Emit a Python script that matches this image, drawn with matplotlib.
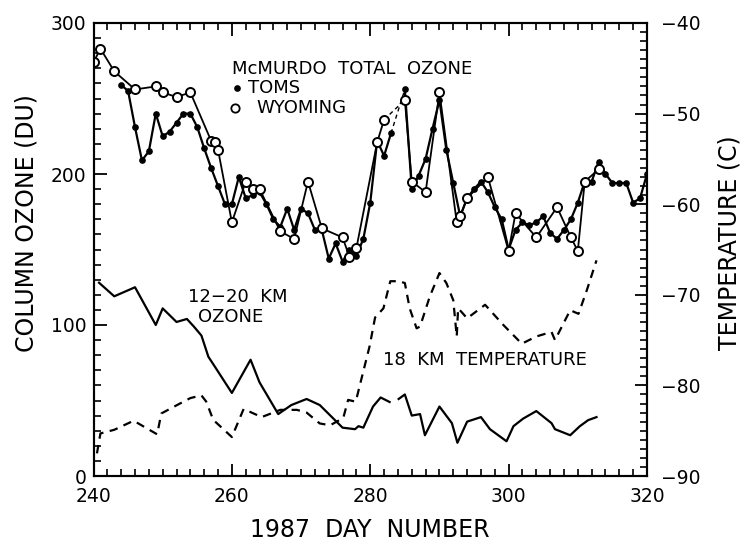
import matplotlib
matplotlib.use('Agg')
import matplotlib.pyplot as plt
import numpy as np
from matplotlib.lines import Line2D
from matplotlib.ticker import MultipleLocator, FixedLocator

plt.rcParams['font.family'] = ['DejaVu Sans']

# ---- data ----
toms_day = [244, 245, 246, 247, 248, 249, 250, 251, 252, 253, 254, 255, 256, 257,
            258, 259, 260, 261, 262, 263, 264, 265, 266, 267, 268, 269, 270, 271,
            272, 273, 274, 275, 276, 277, 278, 279, 280, 281, 282, 283, 284, 285,
            286, 287, 288, 289, 290, 291, 292, 293, 294, 295, 296, 297, 298, 299,
            300, 301, 302, 303, 304, 305, 306, 307, 308, 309, 310, 311, 312, 313,
            314, 315, 316, 317, 318, 319, 320]
toms_du = [259, 255, 231, 209, 215, 240, 225, 228, 234, 240, 240, 231, 217, 204,
           192, 180, 180, 198, 184, 186, 188, 180, 170, 165, 177, 163, 177, 174,
           163, 163, 144, 154, 142, 150, 146, 157, 181, 222, 212, 227, np.nan, 256,
           190, 199, 210, 230, 249, 216, 194, 172, 184, 190, 195, 188, 178, 170,
           150, 163, 168, 166, 168, 172, 161, 157, 163, 170, 181, 195, 195, 208,
           200, 194, 194, 194, 181, 184, 200]
toms_gap = (283, 285)

wy_day = [240, 241, 243, 246, 249, 250, 252, 254, 257, 257.5, 258, 260, 262, 263,
          264, 267, 269, 271, 273, 276, 277, 278, 281, 282, 285, 286, 288, 290,
          292.5, 293, 294, 297, 300, 301, 304, 307, 309, 310, 311, 313]
wy_du = [274, 283, 268, 256, 258, 254, 251, 254, 222, 221, 216, 168, 195, 190,
         190, 162, 157, 195, 164, 158, 145, 151, 221, 236, 249, 195, 188, 254,
         168, 172, 184, 198, 149, 174, 158, 178, 158, 149, 195, 203]
wy_gap = (282, 285)

o3_day = [240.8, 243, 246, 249, 250, 252, 253.5, 254.5, 255.6, 256.6, 257.6, 260,
          262.7, 264, 266.7, 268.6, 270.8, 272.7, 276, 277.8, 278.3, 279, 280.4,
          281.5, 282.8, np.nan, 284.1, 285, 286, 287.2, 287.9, 290, 291.8, 292.6,
          294, 296, 297.3, 299.7, 300.7, 302.1, 304, 306.2, 306.7, 308.9, 310.3,
          311.5, 312.7]
o3_du = [128, 119, 125, 100, 111, 102, 104, 99, 93, 79, 72, 55,
         77, 62, 41, 47, 51, 47, 32, 31, 33, 32, 46,
         52, 49, np.nan, 51, 54, 40, 41, 27, 46, 35, 22,
         36, 39, 31, 23, 33, 38, 43, 35, 31, 27, 33,
         37, 39]

t_day = [240.5, 241, 243, 245.8, 249.2, 249.8, 252, 254, 255.6, 256.3, 257.3, 260,
         261.7, 264.3, 267, 269.4, 270.8, 272.7, 274.2, 276.1, 276.8, 277.9, 279.9,
         280.7, 281.9, 282.9, 284.1, 285, 285.7, 286.7, 287.2, 288.6, 290, 291, 292,
         292.5, 292.7, 293.2, 294, 296.6, 299.2, 301.9, 304, 306.2, 306.7, 308.9,
         310.1, 311.3, 312.7]
t_c = [-87.5, -85.3, -84.9, -83.9, -85.4, -83.1, -82.2, -81.4, -81.1, -81.8, -83.8, -85.7,
       -82.6, -83.5, -82.7, -82.7, -83.0, -84.2, -84.4, -83.6, -81.6, -81.8, -75.7,
       -72.5, -71.5, -68.5, -68.5, -68.7, -71.5, -73.7, -73.5, -70.2, -67.6, -68.7, -70.6,
       -74.6, -71.5, -71.9, -72.6, -71.1, -73.3, -75.4, -74.6, -74.1, -75.0, -71.7,
       -72.1, -69.5, -66.2]

W, H = 747, 543
def fx(p):
    return p / W
def fy(p):
    return 1 - p / H

fig = plt.figure(figsize=(W / 100, H / 100), dpi=100)
ax = fig.add_axes([fx(93.5), fy(476), fx(647) - fx(93.5), fy(23) - fy(476)])
ax2 = ax.twinx()

ax.set_xlim(240, 320)
ax.set_ylim(0, 300)
ax2.set_ylim(-90, -40)

lw = 1.6
# TOMS
td = np.array(toms_day, dtype=float)
tv = np.array(toms_du, dtype=float)
ax.plot(td, tv, '-', color='k', lw=lw, marker='o', ms=3.8, mfc='k', mec='k', zorder=3)
i0, i1 = toms_day.index(toms_gap[0]), toms_day.index(toms_gap[1])
ax.plot([td[i0], td[i1]], [tv[i0], tv[i1]], color='k', lw=1.0, dashes=(3, 2.5), zorder=3)

# Wyoming
wd = np.array(wy_day, dtype=float)
wv = np.array(wy_du, dtype=float)
j0, j1 = wy_day.index(wy_gap[0]), wy_day.index(wy_gap[1])
for sl in (slice(0, j0 + 1), slice(j1, None)):
    ax.plot(wd[sl], wv[sl], '-', color='k', lw=1.3, marker='o', ms=6.5,
            mfc='white', mec='k', mew=1.4, zorder=4)
ax.plot([wd[j0], wd[j1]], [wv[j0], wv[j1]], color='k', lw=1.0, dashes=(3, 2.5), zorder=3)

# 12-20 km ozone
ax.plot(o3_day, o3_du, '-', color='k', lw=lw)

# 18 km temperature
ax2.plot(t_day, t_c, color='k', lw=lw, dashes=(3.8, 2.9))

# ticks
ax.xaxis.set_major_locator(MultipleLocator(20))
ax.xaxis.set_minor_locator(MultipleLocator(2))
ax.yaxis.set_major_locator(MultipleLocator(100))
ax.yaxis.set_minor_locator(MultipleLocator(10))
ax2.yaxis.set_major_locator(MultipleLocator(10))
ax2.yaxis.set_minor_locator(MultipleLocator(1))

ax.tick_params(which='both', direction='in', top=True, right=False, labelsize=13.5)
ax.tick_params(which='major', length=9, width=1.3)
ax.tick_params(which='minor', length=5, width=1.2)
ax.tick_params(axis='x', which='major', pad=8)
ax.tick_params(axis='y', which='major', pad=5)
ax2.tick_params(which='both', direction='in', right=True, left=False, labelsize=13.5)
ax2.tick_params(which='major', length=9, width=1.3, pad=10)
ax2.tick_params(which='minor', length=5, width=1.2)

for a in (ax, ax2):
    for s in a.spines.values():
        s.set_linewidth(1.5)

ax.set_xlabel('1987  DAY  NUMBER', fontsize=17)
ax.xaxis.set_label_coords(0.5, -0.092)
ax.set_ylabel('COLUMN OZONE (DU)', fontsize=17)
ax.yaxis.set_label_coords(-0.100, 0.5585)
ax2.set_ylabel('TEMPERATURE (C)', fontsize=17)
ax2.yaxis.set_label_coords(1.128, 0.514)

# annotations
fig.text(fx(232), fy(69), 'McMURDO  TOTAL  OZONE', fontsize=13, va='center', ha='left')
fig.add_artist(Line2D([fx(236.7)], [fy(88.3)], marker='o', ms=3.8, color='k',
                      linestyle='none', transform=fig.transFigure))
fig.text(fx(248), fy(88.3), 'TOMS', fontsize=13, va='center', ha='left')
fig.add_artist(Line2D([fx(235)], [fy(108.3)], marker='o', ms=6, mfc='white', mec='k',
                      mew=1.3, linestyle='none', transform=fig.transFigure))
fig.text(fx(256.7), fy(108.3), 'WYOMING', fontsize=13, va='center', ha='left')
fig.text(fx(188), fy(296.7), '12\u221220  KM', fontsize=13, va='center', ha='left')
fig.text(fx(198), fy(317), 'OZONE', fontsize=13, va='center', ha='left')
fig.text(fx(383), fy(360), '18  KM  TEMPERATURE', fontsize=13, va='center', ha='left')

fig.savefig('out.png', dpi=100)
